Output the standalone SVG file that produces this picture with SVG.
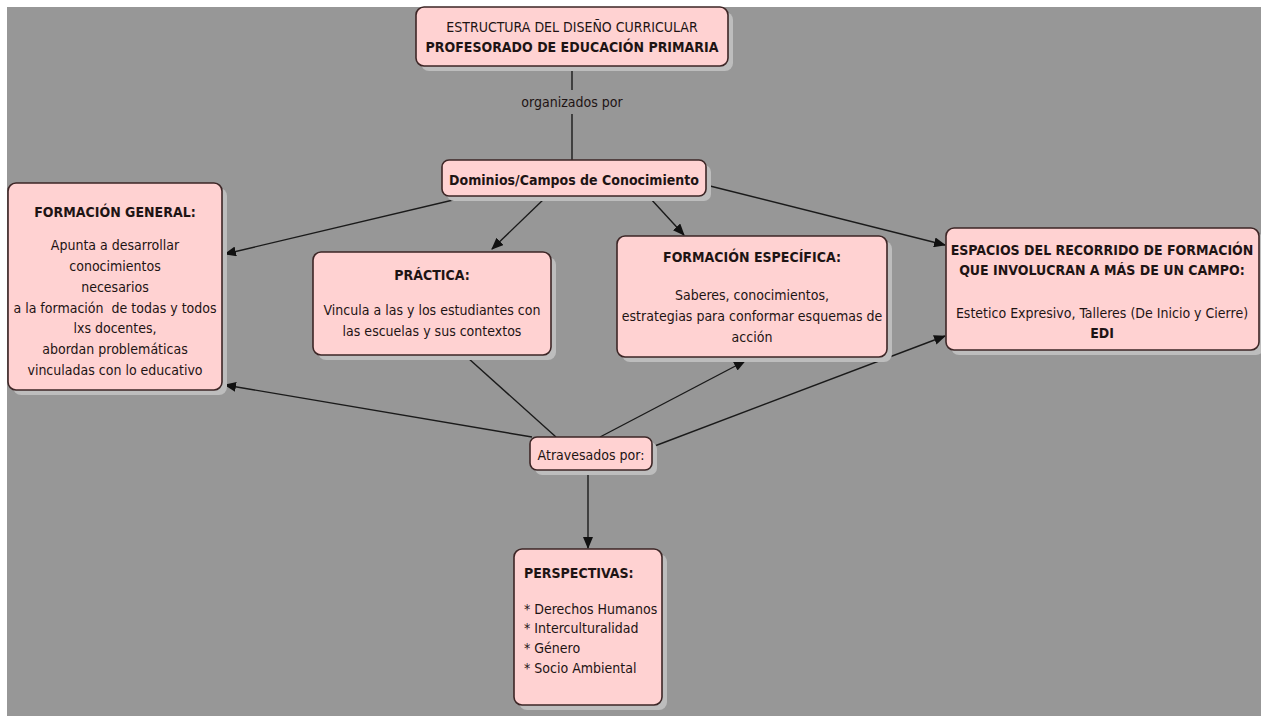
<svg xmlns="http://www.w3.org/2000/svg" width="1261" height="716" viewBox="0 0 1261 716">
<defs>
<style>
.bg{fill:#979797}
.sh{fill:#bdbdbd}
.box{fill:#ffd2d2;stroke:#3d2626;stroke-width:1.6}
text{font-family:"DejaVu Sans Condensed","DejaVu Sans",sans-serif;font-stretch:condensed;font-size:14px;fill:#1e1414}
.b{font-weight:bold}
.c{text-anchor:middle}
.ln{stroke:#1a1a1a;stroke-width:1.4;fill:none}
</style>
<marker id="ah" viewBox="0 0 12 10" refX="11" refY="5" markerWidth="12" markerHeight="10" markerUnits="userSpaceOnUse" orient="auto">
<path d="M0,0 L12,5 L0,10 Z" fill="#111"/>
</marker>
</defs>
<rect class="bg" x="7" y="7" width="1254" height="709"/>

<g id="connectors">
<line class="ln" x1="572" y1="66" x2="572" y2="90"/>
<line class="ln" x1="572" y1="114" x2="572" y2="160"/>
<text class="c" x="572" y="107">organizados por</text>
<line class="ln" x1="470" y1="196" x2="225" y2="254" marker-end="url(#ah)"/>
<line class="ln" x1="545" y1="198" x2="492" y2="249" marker-end="url(#ah)"/>
<line class="ln" x1="650" y1="198" x2="684" y2="235" marker-end="url(#ah)"/>
<line class="ln" x1="706" y1="185" x2="945" y2="245" marker-end="url(#ah)"/>
<line class="ln" x1="532" y1="437" x2="225" y2="385" marker-end="url(#ah)"/>
<line class="ln" x1="556" y1="437" x2="468" y2="358"/>
<line class="ln" x1="600" y1="437" x2="745" y2="361" marker-end="url(#ah)"/>
<line class="ln" x1="652" y1="447" x2="945" y2="336" marker-end="url(#ah)"/>
<line class="ln" x1="588" y1="470" x2="588" y2="548" marker-end="url(#ah)"/>
</g>

<g id="n-estructura">
<rect class="sh" x="421" y="12" width="312" height="59" rx="8"/>
<rect class="box" x="416" y="7" width="312" height="59" rx="8"/>
<text class="c" x="572" y="32">ESTRUCTURA DEL DISEÑO CURRICULAR</text>
<text class="c b" x="572" y="52">PROFESORADO DE EDUCACIÓN PRIMARIA</text>
</g>

<g id="n-dominios">
<rect class="sh" x="447" y="165" width="264" height="36" rx="7"/>
<rect class="box" x="442" y="160" width="264" height="36" rx="7"/>
<text class="c b" x="574" y="185">Dominios/Campos de Conocimiento</text>
</g>

<g id="n-general">
<rect class="sh" x="13" y="188" width="214" height="207" rx="8"/>
<rect class="box" x="8" y="183" width="214" height="207" rx="8"/>
<text class="c b" x="115" y="217">FORMACIÓN GENERAL:</text>
<text class="c" x="115" y="250">Apunta a desarrollar</text>
<text class="c" x="115" y="271">conocimientos</text>
<text class="c" x="115" y="292">necesarios</text>
<text class="c" x="115" y="313" xml:space="preserve">a la formación  de todas y todos</text>
<text class="c" x="115" y="333">lxs docentes,</text>
<text class="c" x="115" y="354">abordan problemáticas</text>
<text class="c" x="115" y="375">vinculadas con lo educativo</text>
</g>

<g id="n-practica">
<rect class="sh" x="318" y="257" width="238" height="103" rx="8"/>
<rect class="box" x="313" y="252" width="238" height="103" rx="8"/>
<text class="c b" x="432" y="280">PRÁCTICA:</text>
<text class="c" x="432" y="315">Vincula a las y los estudiantes con</text>
<text class="c" x="432" y="336">las escuelas y sus contextos</text>
</g>

<g id="n-especifica">
<rect class="sh" x="622" y="241" width="270" height="121" rx="8"/>
<rect class="box" x="617" y="236" width="270" height="121" rx="8"/>
<text class="c b" x="752" y="262">FORMACIÓN ESPECÍFICA:</text>
<text class="c" x="752" y="300">Saberes, conocimientos,</text>
<text class="c" x="752" y="321">estrategias para conformar esquemas de</text>
<text class="c" x="752" y="342">acción</text>
</g>

<g id="n-espacios">
<rect class="sh" x="951" y="233" width="313" height="122" rx="8"/>
<rect class="box" x="946" y="228" width="313" height="122" rx="8"/>
<text class="c b" x="1102" y="255">ESPACIOS DEL RECORRIDO DE FORMACIÓN</text>
<text class="c b" x="1102" y="275">QUE INVOLUCRAN A MÁS DE UN CAMPO:</text>
<text class="c" x="1102" y="318">Estetico Expresivo, Talleres (De Inicio y Cierre)</text>
<text class="c b" x="1102" y="338">EDI</text>
</g>

<g id="n-atravesados">
<rect class="sh" x="535" y="442" width="122" height="33" rx="7"/>
<rect class="box" x="530" y="437" width="122" height="33" rx="7"/>
<text class="c" x="591" y="460">Atravesados por:</text>
</g>

<g id="n-perspectivas">
<rect class="sh" x="519" y="554" width="148" height="156" rx="8"/>
<rect class="box" x="514" y="549" width="148" height="156" rx="8"/>
<text class="b" x="524" y="578">PERSPECTIVAS:</text>
<text x="524" y="614">* Derechos Humanos</text>
<text x="524" y="633">* Interculturalidad</text>
<text x="524" y="653">* Género</text>
<text x="524" y="673">* Socio Ambiental</text>
</g>
</svg>
